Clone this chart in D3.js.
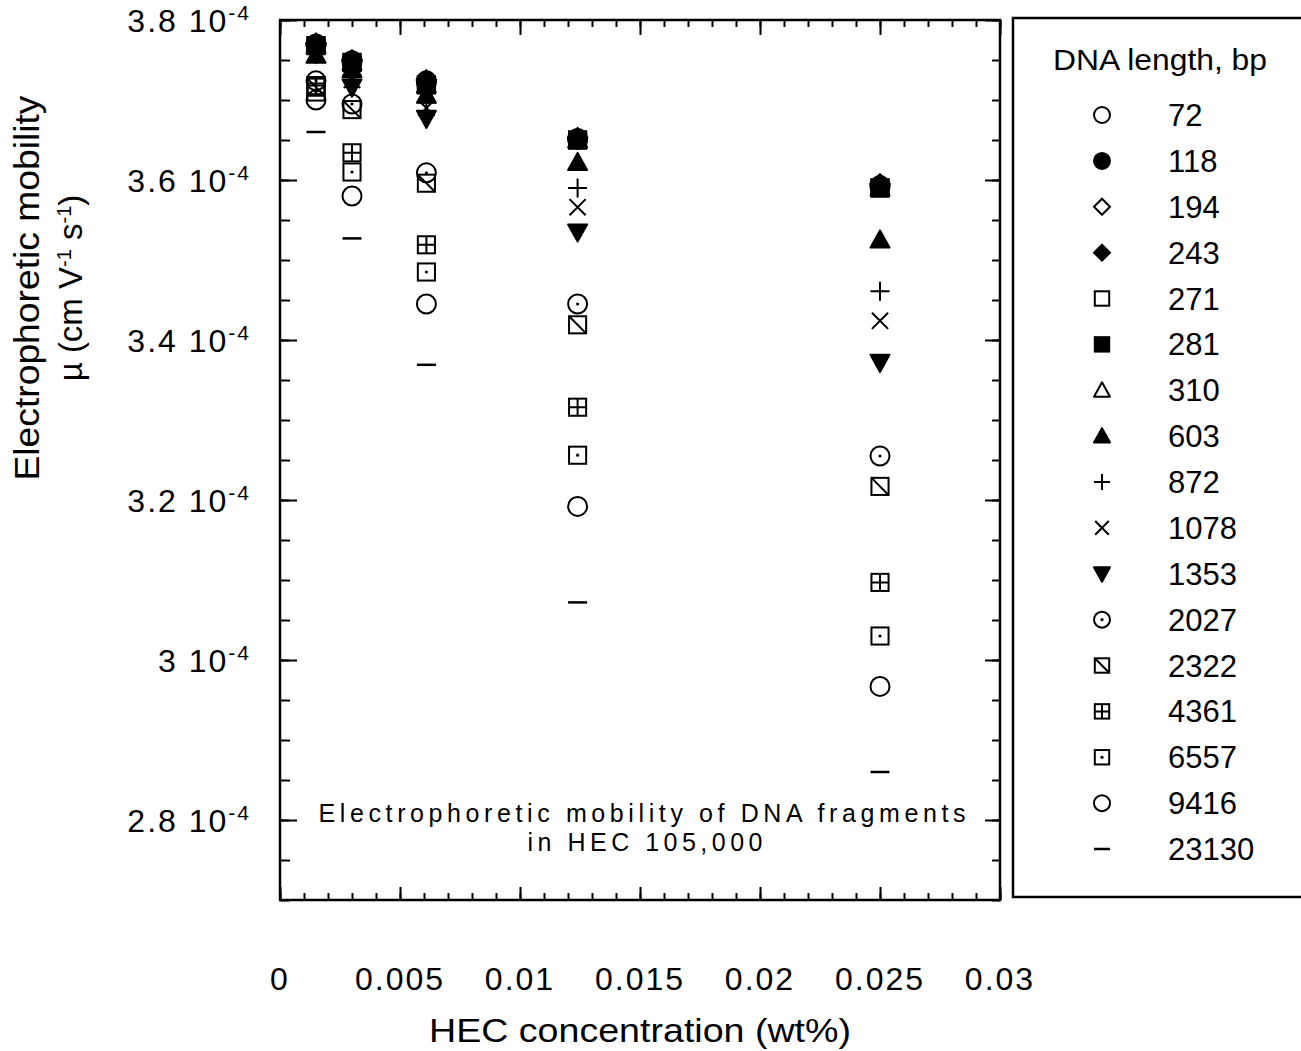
<!DOCTYPE html>
<html>
<head>
<meta charset="utf-8">
<script src="https://cdnjs.cloudflare.com/ajax/libs/d3/7.8.5/d3.min.js"></script>
<style>
  body { margin: 0; background: #fff; }
  text { font-family: "Liberation Sans", Arial, Helvetica, sans-serif; fill: #000; }
</style>
</head>
<body>
<script>
// HEC concentration (wt%) of each column of points
var concentrations = [0.0015, 0.003, 0.0061, 0.0124, 0.025];

// DNA fragment lengths (bp) and the marker used for each
var fragmentLengths = ["72", "118", "194", "243", "271", "281", "310", "603", "872",
  "1078", "1353", "2027", "2322", "4361", "6557", "9416", "23130"];
var markerKinds = ["circle", "circleFilled", "diamond", "diamondFilled", "square",
  "squareFilled", "triangle", "triangleFilled", "plus", "cross", "triangleDownFilled",
  "circleDot", "squareDiag", "squareCross", "squareDot", "circle", "dash"];

// mobility in units of 10^-4 cm V-1 s-1, one value per concentration
var mob72    = [3.769, 3.748, 3.722, 3.651, 3.592];
var mob118   = [3.770, 3.749, 3.724, 3.652, 3.593];
var mob194   = [3.771, 3.750, 3.725, 3.653, 3.595];
var mob243   = [3.771, 3.750, 3.725, 3.653, 3.595];
var mob271   = [3.768, 3.747, 3.719, 3.650, 3.590];
var mob281   = [3.768, 3.747, 3.719, 3.650, 3.590];
var mob310   = [3.768, 3.747, 3.719, 3.650, 3.590];
var mob603   = [3.756, 3.738, 3.706, 3.622, 3.525];
var mob872   = [3.762, 3.731, 3.697, 3.590, 3.461];
var mob1078  = [3.760, 3.725, 3.690, 3.566, 3.424];
var mob1353  = [3.758, 3.716, 3.677, 3.535, 3.372];
var mob2027  = [3.724, 3.695, 3.609, 3.445, 3.255];
var mob2322  = [3.716, 3.688, 3.596, 3.419, 3.217];
var mob4361  = [3.718, 3.634, 3.519, 3.316, 3.097];
var mob6557  = [3.710, 3.610, 3.485, 3.256, 3.030];
var mob9416  = [3.700, 3.580, 3.445, 3.192, 2.967];
var mob23130 = [3.660, 3.527, 3.369, 3.072, 2.860];

var xTickValues = [0, 0.005, 0.01, 0.015, 0.02, 0.025, 0.03];
var xTickLabels = ["0", "0.005", "0.01", "0.015", "0.02", "0.025", "0.03"];
var yTickValues = [2.8, 3.0, 3.2, 3.4, 3.6, 3.8];
var yTickLabels = ["2.8", "3", "3.2", "3.4", "3.6", "3.8"];

var allSeries = [mob72, mob118, mob194, mob243, mob271, mob281, mob310, mob603, mob872,
  mob1078, mob1353, mob2027, mob2322, mob4361, mob6557, mob9416, mob23130];

var w = 1301;
var h = 1051;

var svg = d3.select("body")
  .append("svg")
  .attr("width", w)
  .attr("height", h);

var x = d3.scaleLinear().domain([0, 0.03]).range([280, 1000]);
var y = d3.scaleLinear().domain([2.7, 3.8]).range([900, 20]);

// draws one marker centred on 0,0 into g
function drawMarker(g, kind, r) {
  var filled = kind.indexOf("Filled") >= 0;
  var fill = filled ? "#000" : "none";
  var sw = 2;
  var s = r * 0.9;
  if (kind == "circle" || kind == "circleFilled" || kind == "circleDot") {
    g.append("circle").attr("r", r).attr("fill", fill).attr("stroke", "#000").attr("stroke-width", sw);
    if (kind == "circleDot") g.append("circle").attr("r", 1.6).attr("fill", "#000");
  } else if (kind.indexOf("diamond") == 0) {
    g.append("path").attr("d", "M0," + (-r) + "L" + r + ",0L0," + r + "L" + (-r) + ",0Z")
      .attr("fill", fill).attr("stroke", "#000").attr("stroke-width", sw);
  } else if (kind.indexOf("square") == 0) {
    g.append("rect").attr("x", -s).attr("y", -s).attr("width", 2 * s).attr("height", 2 * s)
      .attr("fill", fill).attr("stroke", "#000").attr("stroke-width", sw);
    if (kind == "squareDot") g.append("circle").attr("r", 1.6).attr("fill", "#000");
    if (kind == "squareDiag") g.append("path").attr("d", "M" + (-s) + "," + (-s) + "L" + s + "," + s)
      .attr("stroke", "#000").attr("stroke-width", sw);
    if (kind == "squareCross") g.append("path").attr("d", "M" + (-s) + ",0H" + s + "M0," + (-s) + "V" + s)
      .attr("stroke", "#000").attr("stroke-width", sw);
  } else if (kind == "triangle" || kind == "triangleFilled") {
    g.append("path").attr("d", "M0," + (-r) + "L" + r + "," + (r * 0.8) + "L" + (-r) + "," + (r * 0.8) + "Z")
      .attr("fill", fill).attr("stroke", "#000").attr("stroke-width", sw).attr("stroke-linejoin", "round");
  } else if (kind == "triangleDownFilled") {
    g.append("path").attr("d", "M0," + r + "L" + r + "," + (-r * 0.8) + "L" + (-r) + "," + (-r * 0.8) + "Z")
      .attr("fill", fill).attr("stroke", "#000").attr("stroke-width", sw).attr("stroke-linejoin", "round");
  } else if (kind == "plus") {
    g.append("path").attr("d", "M" + (-r) + ",0H" + r + "M0," + (-r) + "V" + r)
      .attr("stroke", "#000").attr("stroke-width", sw);
  } else if (kind == "cross") {
    var c = r * 0.85;
    g.append("path").attr("d", "M" + (-c) + "," + (-c) + "L" + c + "," + c + "M" + c + "," + (-c) + "L" + (-c) + "," + c)
      .attr("stroke", "#000").attr("stroke-width", sw);
  } else if (kind == "dash") {
    g.append("path").attr("d", "M" + (-r) + ",0H" + r).attr("stroke", "#000").attr("stroke-width", 2.5);
  }
}

// ---- axes ticks (inward, no labels) ----
function tickAxis(axis, vals, size, tx, ty) {
  var a = svg.append("g")
    .attr("transform", "translate(" + tx + "," + ty + ")")
    .call(axis.tickValues(vals).tickSize(size).tickFormat(""));
  a.select(".domain").remove();
  a.selectAll("line").attr("stroke", "#000").attr("stroke-width", 2);
}
var xMinor = d3.range(0, 31).map(function(i) { return i * 0.001; });
var yMinor = d3.range(0, 23).map(function(i) { return 2.7 + i * 0.05; });

tickAxis(d3.axisBottom(x), xMinor, -7, 0, 900);
tickAxis(d3.axisBottom(x), xTickValues, -13, 0, 900);
tickAxis(d3.axisTop(x), xMinor, -7, 0, 20);
tickAxis(d3.axisTop(x), xTickValues, -15, 0, 20);
tickAxis(d3.axisLeft(y), yMinor, -10, 280, 0);
tickAxis(d3.axisLeft(y), yTickValues, -17, 280, 0);
tickAxis(d3.axisRight(y), yMinor, -8, 1000, 0);
tickAxis(d3.axisRight(y), yTickValues, -15, 1000, 0);

// frame
svg.append("rect")
  .attr("x", 280).attr("y", 20)
  .attr("width", 720).attr("height", 880)
  .attr("fill", "none").attr("stroke", "#000").attr("stroke-width", 2.5);

// ---- x tick labels, placed well below the frame ----
svg.selectAll(".xlab")
  .data(xTickValues)
  .enter()
  .append("text")
  .attr("class", "xlab")
  .attr("x", function(d) { return x(d); })
  .attr("y", 990)
  .attr("text-anchor", "middle")
  .attr("font-size", 32)
  .attr("letter-spacing", 2)
  .text(function(d, i) { return xTickLabels[i]; });

svg.append("text")
  .attr("x", 640).attr("y", 1042)
  .attr("text-anchor", "middle")
  .attr("font-size", 34)
  .attr("textLength", 422)
  .attr("lengthAdjust", "spacingAndGlyphs")
  .text("HEC concentration (wt%)");

// ---- y tick labels: "3.8 10-4" ----
var ylab = svg.selectAll(".ylab")
  .data(yTickValues)
  .enter()
  .append("text")
  .attr("class", "ylab")
  .attr("x", 251)
  .attr("y", function(d) { return y(d) + 12; })
  .attr("text-anchor", "end")
  .attr("font-size", 32)
  .attr("letter-spacing", 2);
ylab.append("tspan").text(function(d, i) { return yTickLabels[i] + " 10"; });
ylab.append("tspan").attr("dy", -12).attr("font-size", 21).text("-4");

// ---- y title ----
svg.append("text")
  .attr("transform", "translate(39,288) rotate(-90)")
  .attr("text-anchor", "middle")
  .attr("font-size", 35)
  .attr("textLength", 385)
  .attr("lengthAdjust", "spacingAndGlyphs")
  .text("Electrophoretic mobility");

var yt2 = svg.append("text")
  .attr("transform", "translate(82,288) rotate(-90)")
  .attr("text-anchor", "middle")
  .attr("font-size", 33);
yt2.append("tspan").text("\u00b5 (cm V");
yt2.append("tspan").attr("dy", -11).attr("font-size", 20).text("-1");
yt2.append("tspan").attr("dy", 11).text(" s");
yt2.append("tspan").attr("dy", -11).attr("font-size", 20).text("-1");
yt2.append("tspan").attr("dy", 11).text(")");

// ---- note inside the plot ----
svg.append("text")
  .attr("x", 642).attr("y", 822)
  .attr("text-anchor", "middle")
  .attr("font-size", 25)
  .attr("textLength", 647)
  .attr("lengthAdjust", "spacing")
  .text("Electrophoretic mobility of DNA fragments");
svg.append("text")
  .attr("x", 645).attr("y", 851)
  .attr("text-anchor", "middle")
  .attr("font-size", 25)
  .attr("textLength", 235)
  .attr("lengthAdjust", "spacing")
  .text("in  HEC  105,000");

// ---- data points: open markers first, filled ones on top ----
var order = d3.range(allSeries.length).sort(function(a, b) {
  var fa = markerKinds[a].indexOf("Filled") >= 0 ? 1 : 0;
  var fb = markerKinds[b].indexOf("Filled") >= 0 ? 1 : 0;
  return fa - fb || a - b;
});
order.forEach(function(si) {
  allSeries[si].forEach(function(v, ci) {
    var g = svg.append("g")
      .attr("transform", "translate(" + x(concentrations[ci]) + "," + y(v) + ")");
    drawMarker(g, markerKinds[si], 9.5);
  });
});

// ---- legend ----
svg.append("rect")
  .attr("x", 1013).attr("y", 18)
  .attr("width", 320).attr("height", 879)
  .attr("fill", "none").attr("stroke", "#000").attr("stroke-width", 2.5);

svg.append("text")
  .attr("x", 1160).attr("y", 70)
  .attr("text-anchor", "middle")
  .attr("font-size", 30)
  .attr("textLength", 214)
  .attr("lengthAdjust", "spacingAndGlyphs")
  .text("DNA length, bp");

var legendY = d3.scaleLinear().domain([0, 16]).range([115, 849]);
fragmentLengths.forEach(function(name, i) {
  var g = svg.append("g").attr("transform", "translate(1102," + legendY(i) + ")");
  drawMarker(g, markerKinds[i], 8);
  svg.append("text")
    .attr("x", 1168).attr("y", legendY(i) + 11)
    .attr("font-size", 31)
    .text(name);
});
</script>
</body>
</html>
